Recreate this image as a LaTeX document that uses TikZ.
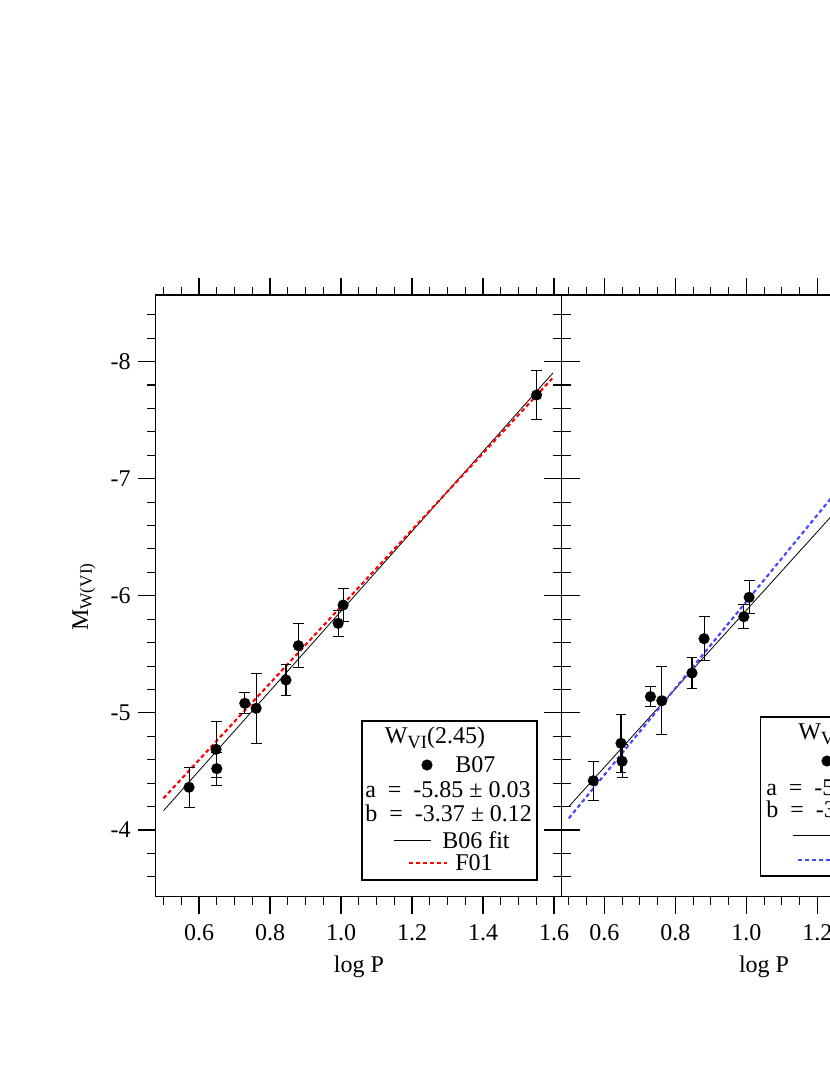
\documentclass[tikz,border=0pt]{standalone}
\usepackage{fontspec}
\setmainfont{Liberation Serif}
\begin{document}
\begin{tikzpicture}[x=0.75pt,y=-0.75pt,
  frame/.style={line width=0.8pt},
  tk/.style={line width=0.8pt},
  ticklab/.style={font=\fontsize{18}{20}\selectfont,inner sep=0pt},
  leg/.style={font=\fontsize{18}{20}\selectfont,inner sep=0pt},
  ebar/.style={line width=0.8pt},
  dot/.style={circle,fill=black,inner sep=0pt,minimum size=8.4pt},
  fitline/.style={line width=0.6pt,black},
  reddash/.style={line width=1.6pt,red,dash pattern=on 3pt off 2.2pt},
  bluedash/.style={line width=1.6pt,color={rgb,255:red,70;green,70;blue,255},dash pattern=on 3pt off 2.2pt}]
\useasboundingbox (0,0) rectangle (830,1075);
\clip (0,0) rectangle (830,1075);
\newcommand\datapt[4]{%
  \draw[ebar] (#1,{#2-#3}) -- (#1,{#2+#3});
  \draw[ebar] (#1,{#2-#3}) ++(-4.1pt,0) -- ++(8.2pt,0);
  \draw[ebar] (#1,{#2+#3}) ++(-4.1pt,0) -- ++(8.2pt,0);
  \node[dot] (#4) at (#1,#2) {};}
% frames
\draw[frame] (155.7,295) rectangle (561.7,896.5);
\draw[frame] (561.7,295) -- (840,295);
\draw[frame] (561.7,896.5) -- (840,896.5);
% x ticks
\foreach \i in {0,...,22}{
  \pgfmathsetmacro\px{163.5+\i*17.75}
  \pgfmathsetmacro\len{ifthenelse(mod(\i,4)==2,17,8)}
  \draw[tk] (\px,896.5) -- (\px,896.5+\len);
  \draw[tk] (\px,295) -- (\px,295-\len);}
\foreach \i in {0,...,16}{
  \pgfmathsetmacro\px{568.8+\i*17.75}
  \pgfmathsetmacro\len{ifthenelse(mod(\i,4)==2,17,8)}
  \draw[tk] (\px,896.5) -- (\px,896.5+\len);
  \draw[tk] (\px,295) -- (\px,295-\len);}
% y ticks
\foreach \j in {0,...,24}{
  \pgfmathsetmacro\py{1298.4+(-8.4+\j*0.2)*117.1}
  \pgfmathsetmacro\len{ifthenelse(mod(\j,5)==2,18,9)}
  \draw[tk] (155.7,\py) -- (155.7-\len,\py);
  \draw[tk] (561.7-\len,\py) -- (561.7+\len,\py);}
% tick labels
\foreach \v/\px in {0.6/199,0.8/270,1.0/341,1.2/412,1.4/483,1.6/554}
  \node[ticklab] (xl\px) at (\px,933) {\v};
\foreach \v/\px in {0.6/604.3,0.8/675.3,1.0/746.3,1.2/817.3}
  \node[ticklab] (xr\px) at (\px,933) {\v};
\foreach \v in {8,7,6,5,4}
  \node[ticklab,anchor=east] (yl\v) at (131,{1298.4-\v*117.1}) {-\v};
\node[ticklab] (xlab1) at (359,967) {log P};
\node[ticklab] (xlab2) at (764,967) {log P};
\node[ticklab,rotate=90] (ylab) at (84,597) {M\raisebox{-0.35ex}{\fontsize{13}{14}\selectfont W(VI)}};
% left panel data
\begin{scope}[x=266.25pt,y=-87.825pt,shift={(-10.5pt,-973.8pt)}]
  \coordinate (b1s) at (0.5,-4.165); \coordinate (b1e) at (1.597,-7.903);
  \coordinate (r1s) at (0.5,-4.271); \coordinate (r1e) at (1.595,-7.856);
  \draw[fitline] (b1s) -- (b1e);
  \draw[reddash] (r1s) -- (r1e);
  \datapt{0.572}{-4.365}{0.17}{L1}
  \datapt{0.648}{-4.689}{0.24}{L2}
  \datapt{0.650}{-4.524}{0.14}{L3}
  \datapt{0.729}{-5.082}{0.09}{L4}
  \datapt{0.761}{-5.039}{0.30}{L5}
  \datapt{0.845}{-5.281}{0.13}{L6}
  \datapt{0.880}{-5.574}{0.19}{L7}
  \datapt{0.992}{-5.765}{0.11}{L8}
  \datapt{1.006}{-5.921}{0.14}{L9}
  \datapt{1.551}{-7.715}{0.21}{L10}
\end{scope}
% right panel data
\begin{scope}[x=266.25pt,y=-87.825pt,shift={(293.475pt,-973.8pt)}]
  \coordinate (b2s) at (0.5,-4.20); \coordinate (b2e) at (1.35,-7.05);
  \coordinate (u2s) at (0.5,-4.10); \coordinate (u2e) at (1.35,-7.245);
  \draw[fitline] (b2s) -- (b2e);
  \draw[bluedash] (u2s) -- (u2e);
  \datapt{0.569}{-4.421}{0.167}{R1}
  \datapt{0.647}{-4.740}{0.25}{R2}
  \datapt{0.650}{-4.587}{0.14}{R3}
  \datapt{0.730}{-5.139}{0.085}{R4}
  \datapt{0.762}{-5.104}{0.29}{R5}
  \datapt{0.847}{-5.341}{0.13}{R6}
  \datapt{0.881}{-5.634}{0.19}{R7}
  \datapt{0.993}{-5.822}{0.105}{R8}
  \datapt{1.008}{-5.987}{0.14}{R9}
\end{scope}
% left legend
\draw[frame,fill=white] (362,721) rectangle (537,880);
\node[leg] (t1) at (435,738) {W\raisebox{-0.5ex}{\fontsize{14}{15}\selectfont VI}(2.45)};
\node[dot] (ld1) at (427,765) {};
\node[leg,anchor=west] (lb1) at (455,765) {B07};
\node[leg,anchor=west] (la1) at (365,790) {a \ = \ -5.85 ± 0.03};
\node[leg,anchor=west] (lbb1) at (365,813) {b \ = \ -3.37 ± 0.12};
\coordinate (ll1a) at (394,840); \coordinate (ll1b) at (431,840);
\draw[fitline] (ll1a) -- (ll1b);
\node[leg,anchor=west] (lf1) at (442,840) {B06 fit};
\coordinate (lr1a) at (409,863); \coordinate (lr1b) at (447,863);
\draw[reddash] (lr1a) -- (lr1b);
\node[leg,anchor=west] (lg1) at (455,863) {F01};
% right legend (clipped at the edge, as in the reference)
\draw[frame,fill=white] (760.7,717) rectangle (960,876);
\node[leg,anchor=west] (t2) at (798,734) {W\raisebox{-0.5ex}{\fontsize{14}{15}\selectfont VI}(2.45)};
\node[dot] (ld2) at (827,761) {};
\node[leg,anchor=west] (la2) at (766,788) {a \ = \ -5.89 ± 0.03};
\node[leg,anchor=west] (lbb2) at (766,809) {b \ = \ -3.37 ± 0.12};
\coordinate (ll2a) at (792.7,835); \coordinate (ll2b) at (840,835);
\draw[fitline] (ll2a) -- (ll2b);
\coordinate (lr2a) at (798,860); \coordinate (lr2b) at (840,860);
\draw[bluedash] (lr2a) -- (lr2b);
\end{tikzpicture}
\end{document}
